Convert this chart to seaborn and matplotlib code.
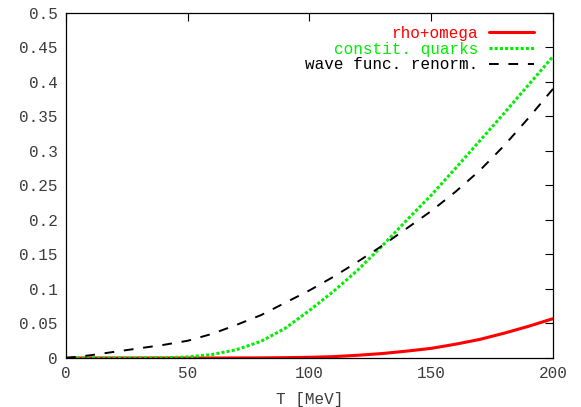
import numpy as np
import pandas as pd
import matplotlib
matplotlib.use("Agg")
import matplotlib.pyplot as plt
import seaborn as sns

# values
T = [0, 10, 20, 30, 40, 50, 60, 70, 80, 90, 100,
     110, 120, 130, 140, 150, 160, 170, 180, 190, 200]
rho_omega = [0, 0, 0, 0, 0, 0, 0, 0.0001, 0.0002, 0.0005, 0.001,
             0.002, 0.004, 0.0065, 0.010, 0.014, 0.020, 0.027, 0.036, 0.046, 0.057]
constit_quarks = [0, 0, 0, 0, 0.0003, 0.0015, 0.005, 0.012, 0.024, 0.043, 0.069,
                  0.097, 0.128, 0.163, 0.200, 0.236, 0.275, 0.315, 0.355, 0.396, 0.437]
wave_func = [0, 0.004, 0.009, 0.014, 0.019, 0.025, 0.035, 0.048, 0.062, 0.080, 0.098,
             0.118, 0.140, 0.163, 0.188, 0.213, 0.241, 0.272, 0.308, 0.348, 0.390]

xticks = [0, 50, 100, 150, 200]
yticks = [0, 0.05, 0.1, 0.15, 0.2, 0.25, 0.3, 0.35, 0.4, 0.45, 0.5]

sns.set_style("white")
plt.rcParams['font.family'] = ['Liberation Mono', 'DejaVu Sans Mono']
plt.rcParams['font.size'] = 11.5

fig = plt.figure(figsize=(5.81, 4.07), dpi=100)
ax = fig.add_axes([0.1136, 0.1204, 0.8382, 0.8477])

sns.lineplot(x=T, y=rho_omega, ax=ax, color="#ff0000", lw=2.2,
             label="rho+omega")
sns.lineplot(x=T, y=constit_quarks, ax=ax, color="#00ee00", lw=2.2,
             linestyle=(0, (1.0, 0.7)), label="constit. quarks")
sns.lineplot(x=T, y=wave_func, ax=ax, color="black", lw=1.4,
             linestyle=(0, (5, 5)), label="wave func. renorm.")

ax.set_xlim(0, 200)
ax.set_ylim(0, 0.5)
ax.set_xticks(xticks)
ax.set_yticks(yticks)
ax.set_xticklabels([str(v) for v in xticks])
ax.set_yticklabels(["0" if v == 0 else ("%g" % v) for v in yticks])
ax.tick_params(direction="in", length=6, width=0.8, top=True, right=True,
               colors="black", labelcolor="#3c3c3c", pad=6)
for s in ax.spines.values():
    s.set_color("black")
    s.set_linewidth(0.9)

ax.set_xlabel("T [MeV]", color="#3c3c3c", labelpad=8)
ax.set_ylabel("")

leg = ax.legend(loc="upper right", bbox_to_anchor=(0.961, 0.963),
                frameon=False, markerfirst=False, labelcolor="linecolor",
                handlelength=2.8, handletextpad=0.7, labelspacing=0.05,
                borderpad=0, borderaxespad=0)

fig.savefig("out.png", dpi=100)
